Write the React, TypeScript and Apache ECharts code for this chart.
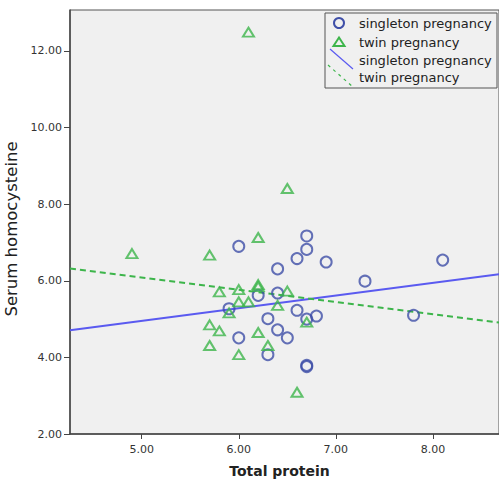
import React, { useEffect, useRef } from "react";
import * as echarts from "echarts";

const singletonX = [6.0, 6.7, 6.7, 6.6, 6.9, 6.4, 7.3, 8.1, 6.2, 6.4, 5.9, 6.6, 6.7, 6.8, 6.3, 6.4, 6.5, 6.0, 6.3, 6.7, 6.7, 7.8];
const singletonY = [6.9, 7.17, 6.82, 6.58, 6.49, 6.31, 5.99, 6.54, 5.62, 5.68, 5.27, 5.23, 5.0, 5.08, 5.01, 4.72, 4.51, 4.51, 4.07, 3.79, 3.76, 5.1];

const twinX = [6.1, 6.5, 6.2, 4.9, 5.7, 5.8, 6.0, 6.2, 6.2, 6.5, 6.0, 6.1, 5.9, 6.4, 6.7, 5.7, 5.8, 6.2, 5.7, 6.3, 6.0, 6.6];
const twinY = [12.49, 8.41, 7.13, 6.71, 6.67, 5.71, 5.77, 5.9, 5.85, 5.73, 5.45, 5.45, 5.16, 5.36, 4.92, 4.85, 4.69, 4.65, 4.31, 4.31, 4.07, 3.09];

// fit lines: endpoints at x-axis extent
const fitX = [4.262, 8.68];
const singletonFitY = [4.71, 6.17];
const twinFitY = [6.32, 4.91];

const xTicks = [5, 6, 7, 8];
const yTicks = [2, 4, 6, 8, 10, 12];

const seriesNames = ["singleton pregnancy", "twin pregnancy"];

const BLUE = "#3f4fa8";
const GREEN = "#3db54b";
const LINE_BLUE = "#5a5af0";

export default function App() {
  const ref = useRef<HTMLDivElement>(null);
  useEffect(() => {
    if (!ref.current) return;
    const chart = echarts.init(ref.current, null, { renderer: "svg" });
    const pts = (xs: number[], ys: number[]) => xs.map((x, i) => [x, ys[i]]);
    const font = "DejaVu Sans";
    chart.setOption({
      animation: false,
      backgroundColor: "#ffffff",
      grid: {
        left: 70,
        top: 10,
        right: 0,
        bottom: 47,
        containLabel: false,
        outerBoundsMode: "none",
        show: true,
        backgroundColor: "#f0f0f0",
        borderColor: "#555",
        borderWidth: 1,
      },
      xAxis: {
        type: "value",
        min: fitX[0],
        max: fitX[1],
        name: "Total protein",
        nameLocation: "middle",
        nameGap: 30,
        nameTextStyle: { fontFamily: font, fontSize: 14, fontWeight: "bold", color: "#222", padding: [0, 10, 0, 0] },
        axisLine: { show: true, onZero: false, lineStyle: { color: "#444", width: 1.5 } },
        axisTick: { show: true, customValues: xTicks, length: 5, lineStyle: { color: "#444" } },
        axisLabel: {
          customValues: xTicks,
          formatter: (v: number) => v.toFixed(2),
          fontFamily: font,
          fontSize: 11,
          color: "#333",
          margin: 10,
        },
        splitLine: { show: false },
      },
      yAxis: {
        type: "value",
        min: 2,
        max: 13.07,
        name: "Serum homocysteine",
        nameLocation: "middle",
        nameGap: 40,
        nameTextStyle: { fontFamily: font, fontSize: 16.5, color: "#222", padding: [0, 14, 0, 0] },
        axisLine: { show: true, onZero: false, lineStyle: { color: "#444", width: 1.5 } },
        axisTick: { show: true, customValues: yTicks, length: 6, lineStyle: { color: "#444" } },
        axisLabel: {
          customValues: yTicks,
          formatter: (v: number) => v.toFixed(2),
          fontFamily: font,
          fontSize: 11,
          color: "#333",
          margin: 8,
        },
        splitLine: { show: false },
      },
      series: [
        {
          name: seriesNames[0] + " fit",
          type: "line",
          data: pts(fitX, singletonFitY),
          symbol: "none",
          lineStyle: { color: LINE_BLUE, width: 2 },
          z: 1,
        },
        {
          name: seriesNames[1] + " fit",
          type: "line",
          data: pts(fitX, twinFitY),
          symbol: "none",
          lineStyle: { color: GREEN, width: 2, type: [6, 4] },
          z: 1,
        },
        {
          name: seriesNames[0],
          type: "scatter",
          data: pts(singletonX, singletonY),
          symbol: "circle",
          symbolSize: 11,
          itemStyle: { color: "rgba(0,0,0,0)", borderColor: BLUE, borderWidth: 2 },
          z: 3,
        },
        {
          name: seriesNames[1],
          type: "scatter",
          data: pts(twinX, twinY),
          symbol: "triangle",
          symbolSize: [11, 9],
          itemStyle: { color: "rgba(0,0,0,0)", borderColor: GREEN, borderWidth: 2 },
          z: 3,
        },
      ],
      graphic: [
        {
          type: "rect",
          shape: { x: 325, y: 13, width: 172, height: 75 },
          style: { fill: "#f0f0f0", stroke: "#555", lineWidth: 1 },
          z: 10,
        },
        {
          type: "circle",
          shape: { cx: 339, cy: 23, r: 5 },
          style: { fill: "none", stroke: BLUE, lineWidth: 2 },
          z: 11,
        },
        {
          type: "polygon",
          shape: { points: [[339, 37.5], [344.5, 46], [333.5, 46]] },
          style: { fill: "none", stroke: GREEN, lineWidth: 2 },
          z: 11,
        },
        {
          type: "line",
          shape: { x1: 330, y1: 49, x2: 353, y2: 69 },
          style: { stroke: LINE_BLUE, lineWidth: 1.2 },
          z: 11,
        },
        {
          type: "line",
          shape: { x1: 328, y1: 65, x2: 353, y2: 87 },
          style: { stroke: GREEN, lineWidth: 1.2, lineDash: [3, 4] },
          z: 11,
        },
        ...[seriesNames[0], seriesNames[1], seriesNames[0], seriesNames[1]].map((t, i) => ({
          type: "text",
          x: 359,
          y: [23, 42, 60, 77][i],
          style: {
            text: t,
            fontFamily: font,
            fontSize: 13,
            fill: "#222",
            verticalAlign: "middle",
          },
          z: 11,
        })),
      ],
    });
    return () => chart.dispose();
  }, []);
  return (
    <div
      ref={ref}
      style={{ position: "absolute", left: 0, top: 0, width: 499, height: 481 }}
    />
  );
}
